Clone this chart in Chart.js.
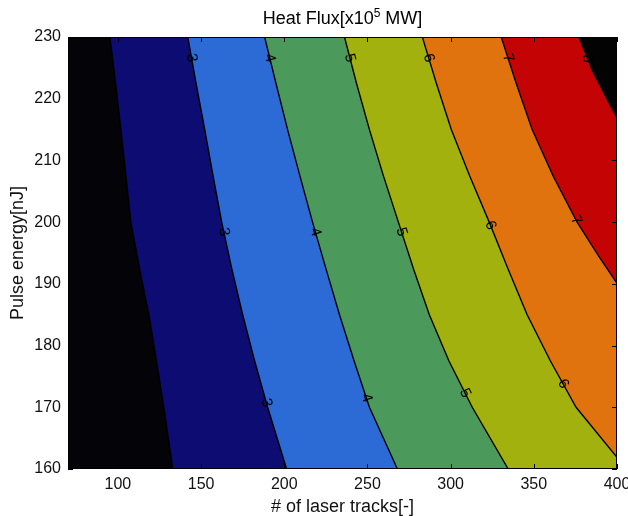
<!DOCTYPE html>
<html>
<head>
<meta charset="utf-8">
<script src="https://cdn.jsdelivr.net/npm/chart.js@4.4.1/dist/chart.umd.min.js"></script>
<style>
  html, body { margin: 0; padding: 0; background: #fff; }
</style>
</head>
<body>
<canvas id="heatFlux" width="628" height="516"></canvas>
<script>
// axis limits and ticks
const xRange = [70, 400];
const yRange = [160, 230];
const xTicks = [100, 150, 200, 250, 300, 350, 400];
const yTicks = [160, 170, 180, 190, 200, 210, 220, 230];

// contour levels and the fill colour of each band (below 2 ... above 8)
const levels = [2, 3, 4, 5, 6, 7, 8];
const bandColors = ['#030308', '#0c0c72', '#2c6bd6', '#4b9a5c', '#a3b10e', '#e0730e', '#c40404', '#030303'];

// contour lines: # of laser tracks (x) against pulse energy (y)
const c2x = [95.2, 98.6, 101.8, 104.8, 107.8, 113, 118.6, 123.2, 127.6, 133];
const c2y = [230, 222.5, 215, 207.5, 200, 192.5, 185, 177.5, 170, 160];
const c3x = [142, 147, 152.2, 157.2, 162.4, 168.4, 175, 182.2, 190, 201.4];
const c3y = [230, 222.5, 215, 207.5, 200, 192.5, 185, 177.5, 170, 160];
const c4x = [188.2, 195, 202, 209.4, 217, 225, 233.2, 242, 251.2, 268];
const c4y = [230, 222.5, 215, 207.5, 200, 192.5, 185, 177.5, 170, 160];
const c5x = [236.2, 243.4, 251.2, 259.6, 268.6, 277.6, 287.2, 299, 313, 334.6];
const c5y = [230, 222.5, 215, 207.5, 200, 192.5, 185, 177.5, 170, 160];
const c6x = [283, 291.4, 300.4, 311.4, 323.2, 334.4, 346, 360, 375.4, 400];
const c6y = [230, 222.5, 215, 207.5, 200, 192.5, 185, 177.5, 170, 161.9];
const c7x = [330.4, 339.4, 349, 361.6, 376, 389, 400];
const c7y = [230, 222.5, 215, 207.5, 200, 194.5, 190.1];
const c8x = [377.2, 385, 392.8, 400];
const c8y = [230, 224.7, 220.6, 216.9];

// inline contour labels (level, pulse energy where it sits)
const labelLevel = [3, 3, 3, 4, 4, 4, 5, 5, 5, 6, 6, 6, 7, 7, 8];
const labelY = [226.6, 198.4, 170.7, 226.6, 198.4, 171.5, 226.6, 198.4, 172.3, 226.6, 199.5, 173.8, 226.6, 200.3, 226.6];

const contours = [[c2x, c2y], [c3x, c3y], [c4x, c4y], [c5x, c5y], [c6x, c6y], [c7x, c7y], [c8x, c8y]];

function pts(xs, ys) {
  return xs.map((v, i) => ({x: v, y: ys[i]}));
}

const datasets = [];

// filled bands, painted from the left; each one covers everything right of its contour
bandColors.forEach((color, k) => {
  let poly;
  if (k === 0) {
    poly = [{x: xRange[0], y: yRange[1]}, {x: xRange[0], y: yRange[0]},
            {x: xRange[1], y: yRange[0]}, {x: xRange[1], y: yRange[1]}];
  } else {
    const [xs, ys] = contours[k - 1];
    poly = pts(xs, ys);
    if (ys[ys.length - 1] === yRange[0]) poly.push({x: xRange[1], y: yRange[0]});
    poly.push({x: xRange[1], y: yRange[1]});
  }
  datasets.push({
    data: poly,
    backgroundColor: color,
    borderWidth: 0,
    pointRadius: 0,
    fill: 'shape',
    tension: 0,
    order: 100 - k
  });
});

// black contour lines on top
contours.forEach(([xs, ys]) => {
  datasets.push({
    data: pts(xs, ys),
    borderColor: '#000',
    borderWidth: 1.4,
    pointRadius: 0,
    fill: false,
    tension: 0,
    order: 0
  });
});

const FONT = "'Liberation Sans', Arial, sans-serif";

const decorations = {
  id: 'decorations',
  afterDatasetsDraw(chart) {
    const {ctx, chartArea: a, scales: {x, y}} = chart;
    ctx.save();

    // contour labels, turned along the line
    ctx.fillStyle = '#000';
    ctx.font = '15px ' + FONT;
    ctx.textAlign = 'center';
    ctx.textBaseline = 'middle';
    labelLevel.forEach((lev, i) => {
      const [xs, ys] = contours[levels.indexOf(lev)];
      const yv = labelY[i];
      let j = 0;
      while (j < ys.length - 2 && yv < ys[j + 1]) j++;
      const t = (ys[j] - yv) / (ys[j] - ys[j + 1]);
      const xv = xs[j] + t * (xs[j + 1] - xs[j]);
      const ang = Math.atan2(y.getPixelForValue(ys[j + 1]) - y.getPixelForValue(ys[j]),
                             x.getPixelForValue(xs[j + 1]) - x.getPixelForValue(xs[j]));
      ctx.save();
      ctx.translate(x.getPixelForValue(xv), y.getPixelForValue(yv));
      ctx.rotate(ang);
      ctx.fillText(String(lev), 0, 0);
      ctx.restore();
    });

    // box and inward tick marks
    ctx.strokeStyle = '#000';
    ctx.lineWidth = 1;
    ctx.beginPath();
    xTicks.forEach(v => {
      const px = Math.round(x.getPixelForValue(v)) + 0.5;
      ctx.moveTo(px, a.bottom); ctx.lineTo(px, a.bottom - 5);
      ctx.moveTo(px, a.top); ctx.lineTo(px, a.top + 5);
    });
    yTicks.forEach(v => {
      const py = Math.round(y.getPixelForValue(v)) + 0.5;
      ctx.moveTo(a.left, py); ctx.lineTo(a.left + 5, py);
      ctx.moveTo(a.right, py); ctx.lineTo(a.right - 5, py);
    });
    ctx.stroke();
    ctx.strokeRect(Math.round(a.left) + 0.5, Math.round(a.top) + 0.5,
                   Math.round(a.right - a.left) - 1, Math.round(a.bottom - a.top) - 1);

    // title with superscript exponent
    const parts = [['Heat Flux[x10', 18, 0], ['5', 12, -7], [' MW]', 18, 0]];
    let total = 0;
    parts.forEach(p => { ctx.font = p[1] + 'px ' + FONT; total += ctx.measureText(p[0]).width; });
    let cx = (a.left + a.right) / 2 - total / 2;
    ctx.textAlign = 'left';
    ctx.textBaseline = 'alphabetic';
    parts.forEach(p => {
      ctx.font = p[1] + 'px ' + FONT;
      ctx.fillText(p[0], cx, 24 + p[2]);
      cx += ctx.measureText(p[0]).width;
    });
    ctx.restore();
  }
};

new Chart(document.getElementById('heatFlux'), {
  type: 'line',
  data: {datasets: datasets},
  options: {
    responsive: false,
    animation: false,
    layout: {padding: {top: 37, right: 11, left: 0, bottom: 0}},
    plugins: {
      legend: {display: false},
      tooltip: {enabled: false},
      title: {display: false}
    },
    scales: {
      x: {
        type: 'linear',
        min: xRange[0],
        max: xRange[1],
        grid: {display: false},
        border: {display: false},
        ticks: {font: {size: 16, family: FONT}, color: '#111', padding: -2, maxRotation: 0, autoSkip: false},
        afterBuildTicks: s => { s.ticks = xTicks.map(v => ({value: v})); },
        afterFit: s => { s.height = 47; s.paddingLeft = 0; s.paddingRight = 0; },
        title: {display: true, text: '# of laser tracks[-]', color: '#111',
                font: {size: 18, family: FONT}, padding: {top: 0, bottom: -2}}
      },
      y: {
        type: 'linear',
        min: yRange[0],
        max: yRange[1],
        grid: {display: false},
        border: {display: false},
        ticks: {font: {size: 16, family: FONT}, color: '#111', padding: -1},
        afterBuildTicks: s => { s.ticks = yTicks.map(v => ({value: v})); },
        afterFit: s => { s.width = 68; s.paddingTop = 0; s.paddingBottom = 0; },
        title: {display: true, text: 'Pulse energy[nJ]', color: '#111',
                font: {size: 18, family: FONT}, padding: {top: 7, bottom: 0}}
      }
    }
  },
  plugins: [decorations]
});
</script>
</body>
</html>
